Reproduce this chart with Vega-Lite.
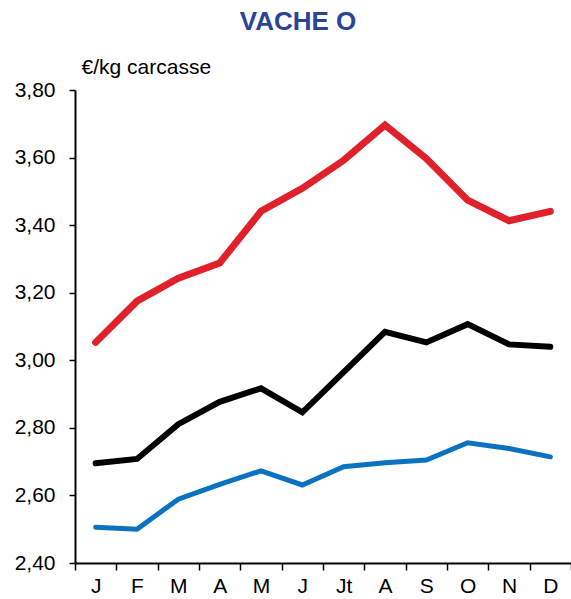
{
  "$schema": "https://vega.github.io/schema/vega-lite/v6.json",
  "autosize": "none",
  "width": 496,
  "height": 473,
  "padding": {"left": 75, "top": 90, "right": 0, "bottom": 36},
  "background": "white",
  "config": {
    "view": {"stroke": null},
    "font": "Liberation Sans"
  },
  "title": {
    "text": "VACHE O",
    "color": "#2B4496",
    "fontSize": 26,
    "fontWeight": "bold",
    "font": "Liberation Sans",
    "anchor": "middle",
    "dx": -25,
    "offset": 21
  },
  "data": {
    "values": [
      {"mois": 1, "serie": "rouge", "prix": 3.053},
      {"mois": 2, "serie": "rouge", "prix": 3.175},
      {"mois": 3, "serie": "rouge", "prix": 3.243},
      {"mois": 4, "serie": "rouge", "prix": 3.288},
      {"mois": 5, "serie": "rouge", "prix": 3.441},
      {"mois": 6, "serie": "rouge", "prix": 3.509},
      {"mois": 7, "serie": "rouge", "prix": 3.592},
      {"mois": 8, "serie": "rouge", "prix": 3.696},
      {"mois": 9, "serie": "rouge", "prix": 3.597},
      {"mois": 10, "serie": "rouge", "prix": 3.474},
      {"mois": 11, "serie": "rouge", "prix": 3.413},
      {"mois": 12, "serie": "rouge", "prix": 3.441},
      {"mois": 1, "serie": "noir", "prix": 2.695},
      {"mois": 2, "serie": "noir", "prix": 2.708},
      {"mois": 3, "serie": "noir", "prix": 2.811},
      {"mois": 4, "serie": "noir", "prix": 2.877},
      {"mois": 5, "serie": "noir", "prix": 2.917},
      {"mois": 6, "serie": "noir", "prix": 2.846},
      {"mois": 7, "serie": "noir", "prix": 2.965},
      {"mois": 8, "serie": "noir", "prix": 3.084},
      {"mois": 9, "serie": "noir", "prix": 3.053},
      {"mois": 10, "serie": "noir", "prix": 3.107},
      {"mois": 11, "serie": "noir", "prix": 3.047},
      {"mois": 12, "serie": "noir", "prix": 3.040},
      {"mois": 1, "serie": "bleu", "prix": 2.506},
      {"mois": 2, "serie": "bleu", "prix": 2.500},
      {"mois": 3, "serie": "bleu", "prix": 2.589},
      {"mois": 4, "serie": "bleu", "prix": 2.633},
      {"mois": 5, "serie": "bleu", "prix": 2.673},
      {"mois": 6, "serie": "bleu", "prix": 2.631},
      {"mois": 7, "serie": "bleu", "prix": 2.685},
      {"mois": 8, "serie": "bleu", "prix": 2.697},
      {"mois": 9, "serie": "bleu", "prix": 2.705},
      {"mois": 10, "serie": "bleu", "prix": 2.756},
      {"mois": 11, "serie": "bleu", "prix": 2.739},
      {"mois": 12, "serie": "bleu", "prix": 2.714}
    ]
  },
  "mark": {"type": "line", "strokeCap": "round", "strokeJoin": "miter"},
  "encoding": {
    "x": {
      "field": "mois",
      "type": "ordinal",
      "scale": {"paddingInner": 0, "paddingOuter": 0},
      "axis": {
        "title": null,
        "labelAngle": 0,
        "tickBand": "extent",
        "domainColor": "black",
        "domainWidth": 2,
        "tickColor": "black",
        "tickWidth": 1.5,
        "tickSize": 7,
        "labelColor": "black",
        "labelFontSize": 21,
        "labelFont": "Liberation Sans",
        "labelPadding": 5,
        "labelExpr": "['J','F','M','A','M','J','Jt','A','S','O','N','D'][datum.value - 1]"
      }
    },
    "y": {
      "field": "prix",
      "type": "quantitative",
      "scale": {"domain": [2.4, 3.8], "nice": false, "zero": false},
      "axis": {
        "values": [2.4, 2.6, 2.8, 3.0, 3.2, 3.4, 3.6, 3.8],
        "grid": false,
        "domainColor": "black",
        "domainWidth": 2,
        "tickColor": "black",
        "tickWidth": 1.5,
        "tickSize": 6,
        "labelColor": "black",
        "labelFontSize": 21,
        "labelFont": "Liberation Sans",
        "labelPadding": 14,
        "labelExpr": "replace(format(datum.value, '.2f'), '.', ',')",
        "title": "€/kg carcasse",
        "titleAngle": 0,
        "titleAlign": "left",
        "titleBaseline": "alphabetic",
        "titleAnchor": "end",
        "titleX": 6,
        "titleY": -17,
        "titleFontSize": 21,
        "titleFontWeight": "normal",
        "titleFont": "Liberation Sans",
        "titleColor": "black"
      }
    },
    "color": {
      "field": "serie",
      "type": "nominal",
      "scale": {"domain": ["rouge", "noir", "bleu"], "range": ["#E0202B", "#000000", "#0A72BE"]},
      "legend": null
    },
    "strokeWidth": {
      "field": "serie",
      "type": "nominal",
      "scale": {"domain": ["rouge", "noir", "bleu"], "range": [7, 5, 5]},
      "legend": null
    }
  }
}
